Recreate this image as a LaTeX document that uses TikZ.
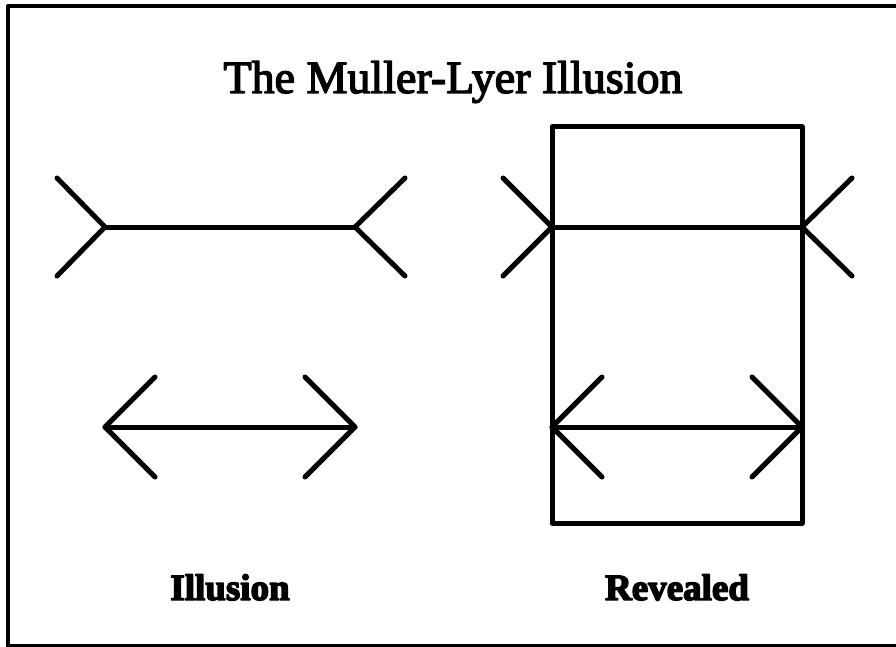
\documentclass[tikz,border=0pt]{standalone}
\usepackage{fontspec}
\setmainfont{Liberation Serif}
\newfontfamily\ttlfont[FakeBold=3]{Liberation Serif}
\newfontfamily\lblfont[FakeBold=4]{Liberation Serif Bold}
\usetikzlibrary{calc}
\begin{document}
\begin{tikzpicture}[x=1pt, y=-1pt, line cap=round, line join=round,
  ln/.style={line width=5pt},
  ttl/.style={anchor=base, inner sep=0pt, font=\ttlfont\fontsize{46}{50}\selectfont},
  lbl/.style={anchor=base, inner sep=0pt, font=\lblfont\fontsize{37}{40}\selectfont}]
  \useasboundingbox (0,0) rectangle (896,647);
  \draw[line width=4pt] (8,6) rectangle (902,646);
  \node[ttl] (title) at (453,93) {The Muller-Lyer Illusion};
  % illusion, fins out
  \coordinate (a1) at (105,227);
  \coordinate (a2) at (355,227);
  \draw[ln] (a1) -- (a2);
  \draw[ln] ($(a1)+(-48,-49)$) -- (a1) -- ($(a1)+(-48,49)$);
  \draw[ln] ($(a2)+(50,-49)$) -- (a2) -- ($(a2)+(50,49)$);
  % illusion, fins in
  \coordinate (b1) at (105,427);
  \coordinate (b2) at (355,427);
  \draw[ln] (b1) -- (b2);
  \draw[ln] ($(b1)+(50,-50)$) -- (b1) -- ($(b1)+(50,50)$);
  \draw[ln] ($(b2)+(-50,-50)$) -- (b2) -- ($(b2)+(-50,50)$);
  % revealed
  \draw[ln] (552,127) rectangle (802,523);
  \coordinate (c1) at (552,227);
  \coordinate (c2) at (802,227);
  \draw[ln] (c1) -- (c2);
  \draw[ln] ($(c1)+(-49,-49)$) -- (c1) -- ($(c1)+(-49,49)$);
  \draw[ln] ($(c2)+(50,-49)$) -- (c2) -- ($(c2)+(50,49)$);
  \coordinate (d1) at (552,427);
  \coordinate (d2) at (802,427);
  \draw[ln] (d1) -- (d2);
  \draw[ln] ($(d1)+(50,-50)$) -- (d1) -- ($(d1)+(50,50)$);
  \draw[ln] ($(d2)+(-50,-50)$) -- (d2) -- ($(d2)+(-50,50)$);
  \node[lbl] (ill) at (230,600) {Illusion};
  \node[lbl] (rev) at (677,600) {Revealed};
\end{tikzpicture}
\end{document}
